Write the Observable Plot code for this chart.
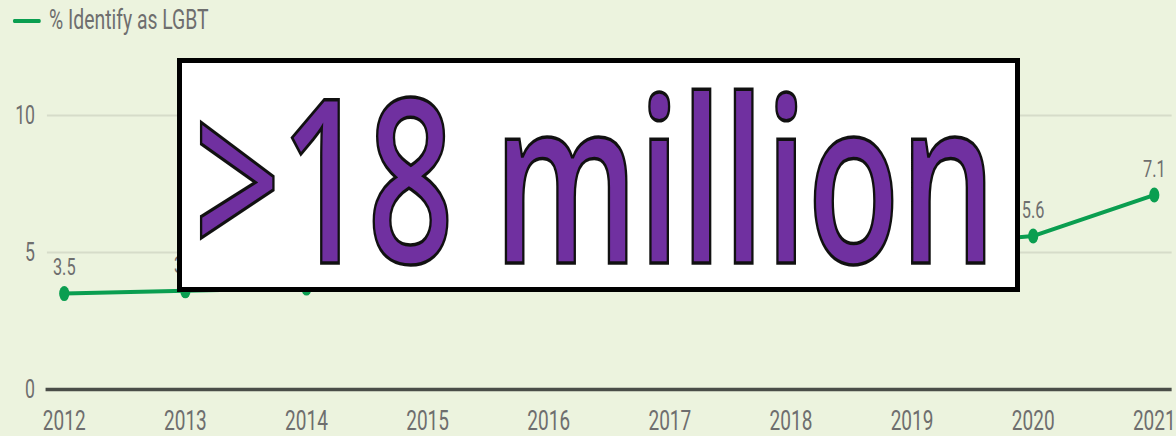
<!DOCTYPE html>
<html>
<head>
<meta charset="utf-8">
<script src="https://cdn.jsdelivr.net/npm/d3@7"></script>
<script src="https://cdn.jsdelivr.net/npm/@observablehq/plot@0.6"></script>
<style>
  html, body { margin: 0; padding: 0; }
  body { width: 1176px; height: 436px; overflow: hidden; background: #ecf3de; position: relative; font-family: Roboto, sans-serif; }
  #squash { position: absolute; left: 0; top: 0; width: 1730px; transform: scaleX(0.68); transform-origin: 0 0; }
  #legend { position: relative; height: 40px; }
  #legend .sw { position: absolute; left: 19px; top: 19px; width: 41px; height: 4px; background: #0a9e50; border-radius: 2px; }
  #legend .lb { position: absolute; left: 72px; top: 3px; font-size: 28.5px; line-height: 34px; color: #6e6e6e; white-space: nowrap; }
  #overlay { position: absolute; left: 0; top: 0; }
</style>
</head>
<body>
<div id="squash">
  <div id="legend"><div class="sw"></div><div class="lb">% Identify as LGBT</div></div>
  <div id="chart"></div>
</div>
<script>
const years = [2012, 2013, 2014, 2015, 2016, 2017, 2020, 2021];
const values = [3.5, 3.6, 3.7, 3.9, 4.1, 4.5, 5.6, 7.1];
const xTicks = [2012, 2013, 2014, 2015, 2016, 2017, 2018, 2019, 2020, 2021];
const yTicks = [0, 5, 10];
const overlayText = ">18 million";

const data = years.map((year, i) => ({ year, value: values[i] }));
const green = "#0a9e50";
const gray = "#6e6e6e";

const chart = Plot.plot({
  width: 1730,
  height: 396,
  marginLeft: 94,
  marginRight: 33,
  marginTop: 75,
  marginBottom: 47,
  x: { domain: [2012, 2021] },
  y: { domain: [0, 10] },
  style: { background: "transparent", fontFamily: "Roboto, sans-serif", color: gray },
  marks: [
    Plot.ruleY([5, 10], { stroke: "#d6dcc9", strokeWidth: 2, insetLeft: -25, insetRight: -26 }),
    Plot.ruleY([0], { stroke: "#4a4d48", strokeWidth: 3.5, insetLeft: -27, insetRight: -26 }),
    Plot.axisX({ ticks: xTicks, tickSize: 0, tickPadding: 21, tickFormat: d => String(d), fontSize: 28, fill: gray, label: null }),
    Plot.axisY({ ticks: yTicks, tickSize: 0, tickPadding: 43, fontSize: 26, fill: gray, label: null }),
    Plot.line(data, { x: "year", y: "value", stroke: green, strokeWidth: 4 }),
    Plot.dot(data, { x: "year", y: "value", r: 7.5, fill: green }),
    Plot.text(data, { x: "year", y: "value", text: d => d.value.toFixed(1), dy: -26, fontSize: 24, fill: gray })
  ]
});
document.getElementById("chart").appendChild(chart);

// annotation box drawn over the chart
const ns = "http://www.w3.org/2000/svg";
const svg = document.createElementNS(ns, "svg");
svg.setAttribute("id", "overlay");
svg.setAttribute("width", 1176);
svg.setAttribute("height", 436);
const rect = document.createElementNS(ns, "rect");
rect.setAttribute("x", 179.5); rect.setAttribute("y", 60.5);
rect.setAttribute("width", 838); rect.setAttribute("height", 229);
rect.setAttribute("fill", "#fff"); rect.setAttribute("stroke", "#000"); rect.setAttribute("stroke-width", 5);
svg.appendChild(rect);
const t = document.createElementNS(ns, "text");
t.setAttribute("x", 194); t.setAttribute("y", 263);
t.setAttribute("font-family", "'Open Sans', 'Noto Sans', sans-serif");
t.setAttribute("font-weight", "600");
t.setAttribute("font-size", 228);
t.setAttribute("fill", "#7030a0");
t.setAttribute("stroke", "#111");
t.setAttribute("stroke-width", 3.5);
t.setAttribute("textLength", 802);
t.setAttribute("lengthAdjust", "spacingAndGlyphs");
t.textContent = overlayText;
svg.appendChild(t);
document.body.appendChild(svg);
</script>
</body>
</html>
